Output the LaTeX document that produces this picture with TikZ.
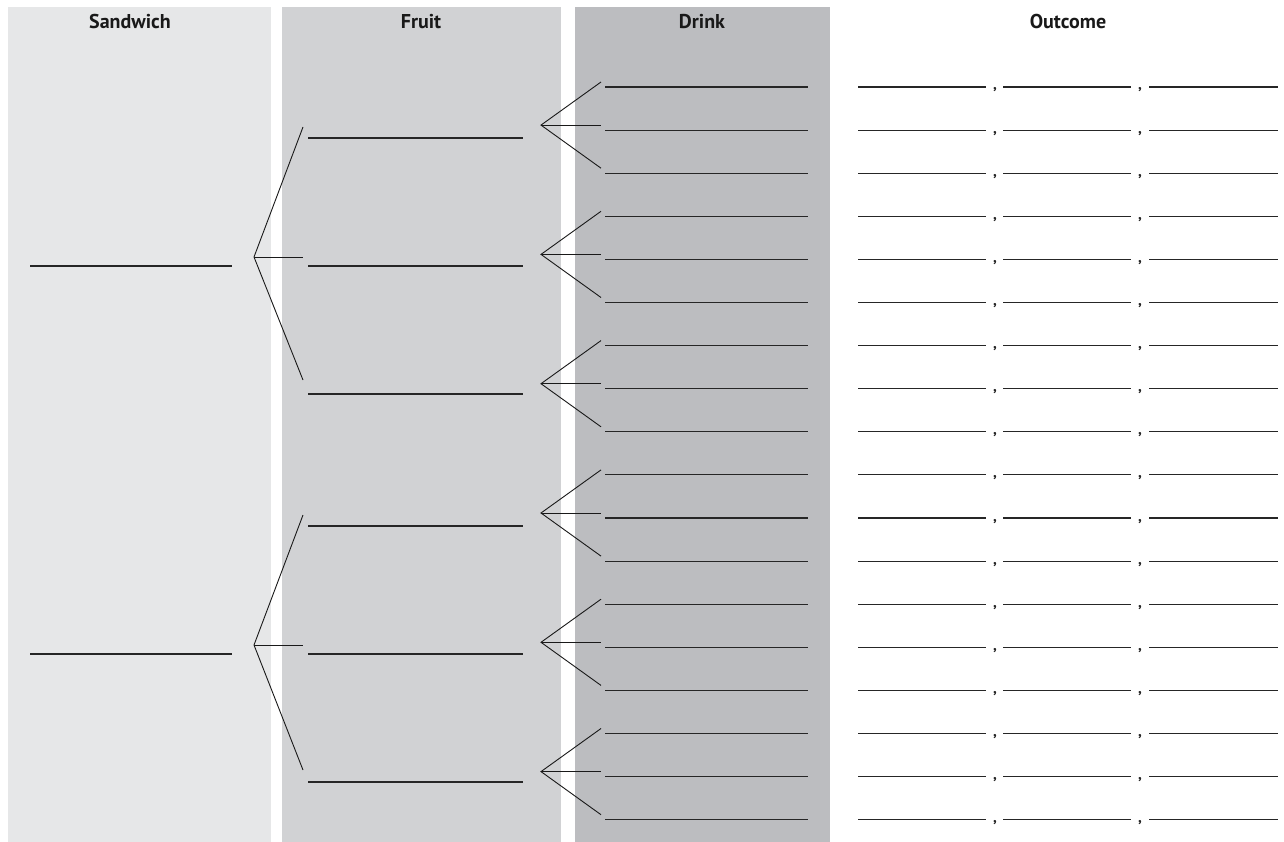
\documentclass[tikz,border=0pt]{standalone}
\usepackage{fontspec}
\setmainfont{PT Sans}
\begin{document}
\begin{tikzpicture}[x=1pt,y=-1pt,
  blank/.style={line width=1.1pt,draw=black!85},
  branch/.style={line width=0.9pt,draw=black!90},
  header/.style={font=\fontsize{20}{24}\selectfont\bfseries,text=black!90,inner sep=0pt,anchor=base},
  comma/.style={font=\fontsize{15}{16}\selectfont\bfseries,inner sep=0pt,text=black!85,anchor=base}]
\useasboundingbox (0,0) rectangle (1284,842);
\definecolor{pA}{HTML}{E6E7E8}
\definecolor{pB}{HTML}{D1D2D4}
\definecolor{pC}{HTML}{BCBDC0}
\fill[pA] (8,7) rectangle (270.5,842);
\fill[pB] (281.5,7) rectangle (561,842);
\fill[pC] (575,7) rectangle (830,842);
\node[header] (hS) at (130,29) {Sandwich};
\node[header] (hF) at (421,29) {Fruit};
\node[header] (hD) at (702,29) {Drink};
\node[header] (hO) at (1068,29) {Outcome};
% sandwich blanks and branches
\foreach \s/\ys/\yj in {1/266/257, 2/654/645}{
  \coordinate (sa\s) at (30,\ys);
  \coordinate (sb\s) at (232,\ys);
  \draw[blank] (sa\s) -- (sb\s);
  \coordinate (sj\s) at (254,\yj);
}
% fruit blanks
\foreach \f/\yf/\ye in {1/138/127, 2/266/257, 3/394/380, 4/526/515, 5/654/645, 6/782/770}{
  \coordinate (fa\f) at (308,\yf);
  \coordinate (fb\f) at (523,\yf);
  \draw[blank] (fa\f) -- (fb\f);
  \coordinate (fe\f) at (303,\ye);
}
\draw[branch] (fe1) -- (sj1) -- (fe3);
\draw[branch] (sj1) -- (fe2);
\draw[branch] (fe4) -- (sj2) -- (fe6);
\draw[branch] (sj2) -- (fe5);
% drink and outcome blanks
\foreach \k in {0,...,17}{
  \pgfmathsetmacro{\yd}{87+43.1*\k}
  \coordinate (da\k) at (605,\yd);
  \coordinate (db\k) at (808,\yd);
  \draw[blank] (da\k) -- (db\k);
  \coordinate (de\k) at (601,\yd-5);
  \coordinate (oa\k) at (858,\yd);
  \coordinate (ob\k) at (986,\yd);
  \coordinate (oc\k) at (1003,\yd);
  \coordinate (od\k) at (1131,\yd);
  \coordinate (oe\k) at (1149,\yd);
  \coordinate (of\k) at (1278,\yd);
  \draw[blank] (oa\k) -- (ob\k);
  \draw[blank] (oc\k) -- (od\k);
  \draw[blank] (oe\k) -- (of\k);
  \node[comma] (c1\k) at (995,\yd+3) {,};
  \node[comma] (c2\k) at (1140,\yd+3) {,};
}
% drink branches
\foreach \f/\a/\b/\c in {1/0/1/2, 2/3/4/5, 3/6/7/8, 4/9/10/11, 5/12/13/14, 6/15/16/17}{
  \coordinate (dj\f) at (541,{87+43.1*\b-5});
  \draw[branch] (de\a) -- (dj\f) -- (de\c);
  \draw[branch] (dj\f) -- (de\b);
}
\end{tikzpicture}
\end{document}
